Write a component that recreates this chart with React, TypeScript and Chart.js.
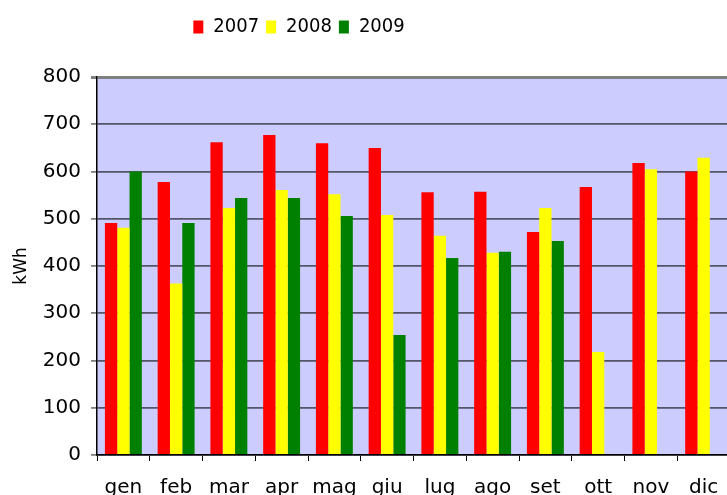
import React, { useEffect, useRef } from "react";
import { Chart, registerables } from "chart.js";

Chart.register(...registerables);

const categories = ["gen", "feb", "mar", "apr", "mag", "giu", "lug", "ago", "set", "ott", "nov", "dic"];
const series2007 = [491, 578, 662, 677, 660, 650, 556, 557, 472, 567, 618, 600];
const series2008 = [481, 363, 523, 561, 552, 508, 464, 428, 523, 218, 605, 629];
const series2009 = [600, 491, 544, 544, 506, 254, 417, 430, 453, null, null, null];
const yTicks = [0, 100, 200, 300, 400, 500, 600, 700, 800];

const W = 735;
const H = 515;

const bgPlugin = {
  id: "plotBg",
  beforeInit(chart: any) {
    const lg = chart.legend;
    if (lg && !lg.__patched) {
      const orig = lg.fit.bind(lg);
      lg.fit = function () {
        orig();
        this.height += 40;
      };
      lg.__patched = true;
    }
  },
  beforeDraw(chart: any) {
    const { ctx, chartArea } = chart;
    if (!chartArea) return;
    const lg = chart.legend;
    if (lg && !lg.__moved) {
      const w = lg.right - lg.left;
      lg.left = 299 - w / 2;
      lg.right = lg.left + w;
      lg.top += 10;
      lg.bottom += 10;
      lg.__moved = true;
    }
    ctx.save();
    ctx.fillStyle = "#CCCCFF";
    ctx.fillRect(chartArea.left, chartArea.top, chartArea.right - chartArea.left, chartArea.bottom - chartArea.top);
    ctx.restore();
  },
};

export default function App() {
  const ref = useRef<HTMLCanvasElement | null>(null);
  useEffect(() => {
    if (!ref.current) return;
    const chart = new Chart(ref.current, {
      type: "bar",
      data: {
        labels: categories,
        datasets: [
          { label: "2007", data: series2007, backgroundColor: "#FF0000" },
          { label: "2008", data: series2008, backgroundColor: "#FFFF00" },
          { label: "2009", data: series2009 as any, backgroundColor: "#008000" },
        ],
      },
      options: {
        animation: false,
        responsive: false,
        layout: { padding: { left: 0, right: W - 730, top: 0, bottom: 0 } },
        datasets: { bar: { categoryPercentage: 0.7, barPercentage: 1.0 } },
        plugins: {
          tooltip: { enabled: false },
          legend: {
            position: "top",
            labels: {
              font: { family: "'DejaVu Sans Condensed', sans-serif", size: 20 },
              color: "#000",
              boxWidth: 10,
              boxHeight: 13,
              padding: 7,
            },
          },
        },
        scales: {
          x: {
            offset: true,
            grid: {
              offset: true,
              drawOnChartArea: false,
              drawTicks: true,
              tickLength: 6,
              tickColor: "#000",
            },
            border: { color: "#000", width: 1.5 },
            ticks: {
              color: "#000",
              font: { family: "'DejaVu Sans', Verdana, sans-serif", size: 20 },
              padding: 15,
              maxRotation: 0,
              autoSkip: false,
            },
            afterFit: (scale: any) => {
              scale.height = H - 455;
            },
          },
          y: {
            min: 0,
            max: 800,
            afterBuildTicks: (scale: any) => {
              scale.ticks = yTicks.map((v) => ({ value: v }));
            },
            grid: {
              color: (c: any) => (c.tick && c.tick.value === 800 ? "#808080" : "#55556a"),
              lineWidth: (c: any) => (c.tick && c.tick.value === 800 ? 3 : 1.8),
              tickLength: 6,
              tickColor: "#808080",
            },
            border: { color: "#000", width: 1.5 },
            ticks: {
              color: "#000",
              font: { family: "'DejaVu Sans', Verdana, sans-serif", size: 20 },
              padding: 10,
            },
            title: {
              display: true,
              text: "kWh",
              color: "#000",
              font: { family: "'DejaVu Sans', Verdana, sans-serif", size: 17 },
              padding: { top: 11, bottom: 0 },
            },
            afterFit: (scale: any) => {
              scale.width = 97;
            },
          },
        },
      },
      plugins: [bgPlugin],
    });
    return () => chart.destroy();
  }, []);
  return (
    <div style={{ position: "fixed", left: 0, top: 0, width: 727, height: 495, overflow: "hidden", background: "#fff" }}>
      <canvas ref={ref} width={W} height={H} style={{ display: "block", width: W, height: H }} />
    </div>
  );
}
